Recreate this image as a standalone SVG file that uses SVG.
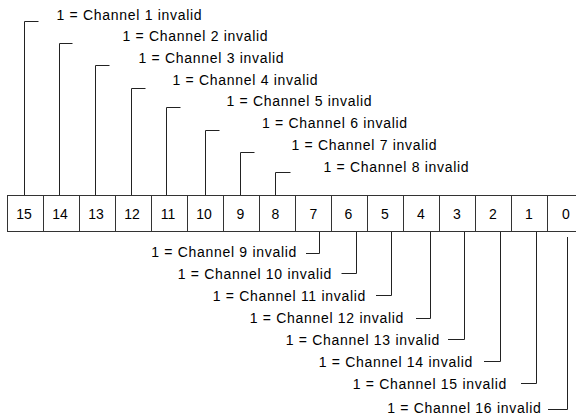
<svg xmlns="http://www.w3.org/2000/svg" width="576" height="419" viewBox="0 0 576 419">
<style>
.t{font-family:"Liberation Sans",Arial,sans-serif;font-size:14px;fill:#000;letter-spacing:0.7px}
.d{font-family:"Liberation Sans",Arial,sans-serif;font-size:14px;fill:#000;text-anchor:middle}
.e{text-anchor:end}
.c{fill:#fff;stroke:#333;stroke-width:1}
.l{fill:none;stroke:#222;stroke-width:1}
</style>
<rect width="576" height="419" fill="#fff"/>
<g id="register">
<g id="bit15"><rect class="c" x="7.5" y="195.5" width="36" height="36"/><text class="d" x="24" y="218.5">15</text></g>
<g id="bit14"><rect class="c" x="43.5" y="195.5" width="36" height="36"/><text class="d" x="60" y="218.5">14</text></g>
<g id="bit13"><rect class="c" x="79.5" y="195.5" width="36" height="36"/><text class="d" x="96" y="218.5">13</text></g>
<g id="bit12"><rect class="c" x="115.5" y="195.5" width="36" height="36"/><text class="d" x="132" y="218.5">12</text></g>
<g id="bit11"><rect class="c" x="151.5" y="195.5" width="36" height="36"/><text class="d" x="168" y="218.5">11</text></g>
<g id="bit10"><rect class="c" x="187.5" y="195.5" width="36" height="36"/><text class="d" x="204" y="218.5">10</text></g>
<g id="bit9"><rect class="c" x="223.5" y="195.5" width="36" height="36"/><text class="d" x="240.5" y="218.5">9</text></g>
<g id="bit8"><rect class="c" x="259.5" y="195.5" width="36" height="36"/><text class="d" x="275.5" y="218.5">8</text></g>
<g id="bit7"><rect class="c" x="295.5" y="195.5" width="36" height="36"/><text class="d" x="313.5" y="218.5">7</text></g>
<g id="bit6"><rect class="c" x="331.5" y="195.5" width="36" height="36"/><text class="d" x="348.5" y="218.5">6</text></g>
<g id="bit5"><rect class="c" x="367.5" y="195.5" width="36" height="36"/><text class="d" x="385" y="218.5">5</text></g>
<g id="bit4"><rect class="c" x="403.5" y="195.5" width="36" height="36"/><text class="d" x="421" y="218.5">4</text></g>
<g id="bit3"><rect class="c" x="439.5" y="195.5" width="36" height="36"/><text class="d" x="457" y="218.5">3</text></g>
<g id="bit2"><rect class="c" x="475.5" y="195.5" width="36" height="36"/><text class="d" x="493" y="218.5">2</text></g>
<g id="bit1"><rect class="c" x="511.5" y="195.5" width="36" height="36"/><text class="d" x="529" y="218.5">1</text></g>
<g id="bit0"><rect class="c" x="547.5" y="195.5" width="36" height="36"/><text class="d" x="566" y="218.5">0</text></g>
</g>
<g id="connectors">
<polyline class="l" points="24.5,195 24.5,21.5 38.5,21.5"/>
<polyline class="l" points="59.5,195 59.5,43.5 72.5,43.5"/>
<polyline class="l" points="95.5,195 95.5,65.5 109.5,65.5"/>
<polyline class="l" points="131.5,195 131.5,88.5 145.5,88.5"/>
<polyline class="l" points="166.5,195 166.5,107.5 180.5,107.5"/>
<polyline class="l" points="205.5,195 205.5,130.5 219.5,130.5"/>
<polyline class="l" points="240.5,195 240.5,152.5 254.5,152.5"/>
<polyline class="l" points="275.5,195 275.5,172.5 290.5,172.5"/>
<polyline class="l" points="319.5,232 319.5,253.5 306,253.5"/>
<polyline class="l" points="356.5,232 356.5,273.5 341.5,273.5"/>
<polyline class="l" points="391.5,232 391.5,295.5 376,295.5"/>
<polyline class="l" points="430.5,232 430.5,318.5 416,318.5"/>
<polyline class="l" points="464.5,232 464.5,339.5 448,339.5"/>
<polyline class="l" points="500.5,232 500.5,361.5 484,361.5"/>
<polyline class="l" points="536.5,232 536.5,383.5 521,383.5"/>
<polyline class="l" points="567.5,237 567.5,409.5 548,409.5"/>
</g>
<g id="label1"><text class="t" x="56.5" y="19.5">1 = Channel 1 invalid</text></g>
<g id="label2"><text class="t" x="122.5" y="41">1 = Channel 2 invalid</text></g>
<g id="label3"><text class="t" x="138.5" y="62.5">1 = Channel 3 invalid</text></g>
<g id="label4"><text class="t" x="172.5" y="84.5">1 = Channel 4 invalid</text></g>
<g id="label5"><text class="t" x="226.5" y="106">1 = Channel 5 invalid</text></g>
<g id="label6"><text class="t" x="262" y="128">1 = Channel 6 invalid</text></g>
<g id="label7"><text class="t" x="291.5" y="150">1 = Channel 7 invalid</text></g>
<g id="label8"><text class="t" x="323.5" y="172">1 = Channel 8 invalid</text></g>
<g id="label9"><text class="t e" x="297" y="257">1 = Channel 9 invalid</text></g>
<g id="label10"><text class="t e" x="332" y="279">1 = Channel 10 invalid</text></g>
<g id="label11"><text class="t e" x="366" y="301">1 = Channel 11 invalid</text></g>
<g id="label12"><text class="t e" x="404" y="323">1 = Channel 12 invalid</text></g>
<g id="label13"><text class="t e" x="440" y="345">1 = Channel 13 invalid</text></g>
<g id="label14"><text class="t e" x="473" y="367">1 = Channel 14 invalid</text></g>
<g id="label15"><text class="t e" x="507" y="389">1 = Channel 15 invalid</text></g>
<g id="label16"><text class="t e" x="541.5" y="413">1 = Channel 16 invalid</text></g>
</svg>
